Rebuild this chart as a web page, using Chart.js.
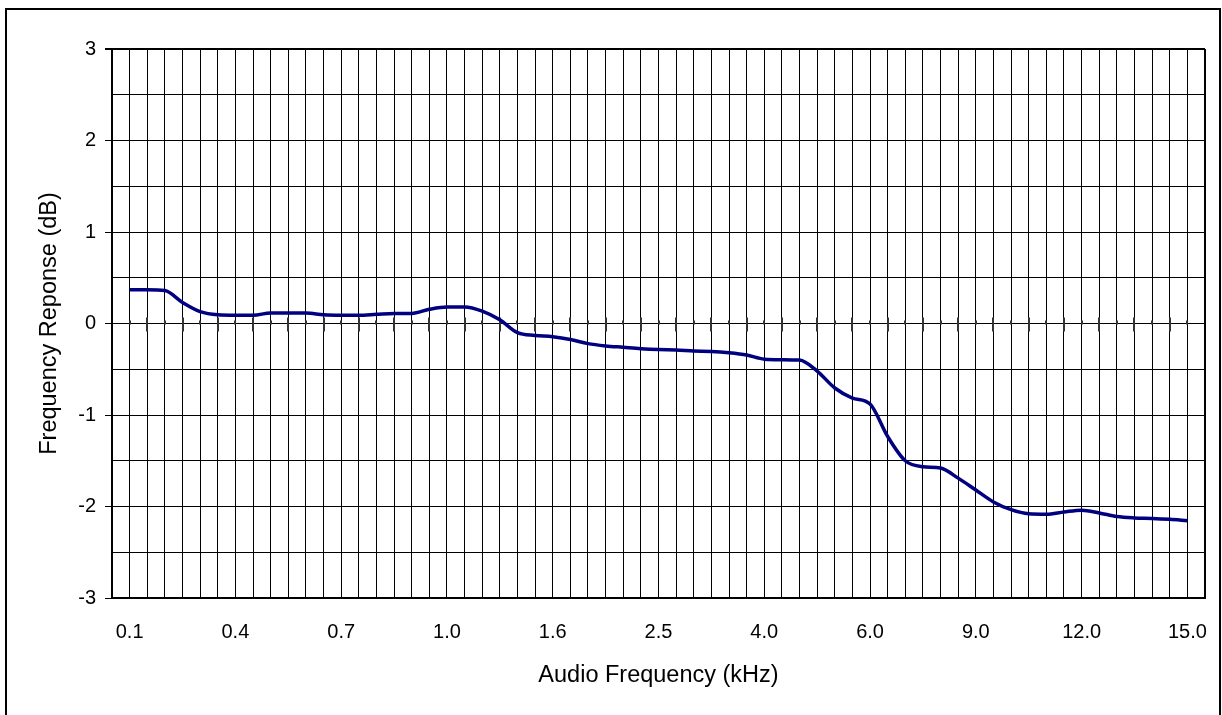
<!DOCTYPE html>
<html>
<head>
<meta charset="utf-8">
<script src="https://cdn.jsdelivr.net/npm/chart.js@4/dist/chart.umd.min.js"></script>
<style>
  html, body { margin: 0; padding: 0; background: #fff; overflow: hidden; width: 1222px; height: 715px; }
  #frame { position: absolute; left: 5px; top: 8px; width: 1212px; height: 720px; border: 2px solid #000; }
  #c { position: absolute; left: 0; top: 0; }
</style>
</head>
<body>
<div id="frame"></div>
<canvas id="c" width="1222" height="715"></canvas>
<script>
// Audio frequency tick labels (kHz), shown every 6th category
const freqTickLabels = ['0.1', '0.4', '0.7', '1.0', '1.6', '2.5', '4.0', '6.0', '9.0', '12.0', '15.0'];
const labelEvery = 6;

// Frequency response (dB), one value per category (61 categories)
const responseDb = [
  0.37, 0.37, 0.36, 0.23, 0.13, 0.095, 0.09, 0.09, 0.115, 0.115,
  0.115, 0.095, 0.09, 0.09, 0.10, 0.11, 0.11, 0.155, 0.18, 0.18,
  0.135, 0.04, -0.10, -0.13, -0.145, -0.175, -0.22, -0.245, -0.26, -0.275,
  -0.285, -0.29, -0.30, -0.305, -0.32, -0.345, -0.39, -0.395, -0.40, -0.52,
  -0.705, -0.815, -0.88, -1.235, -1.50, -1.565, -1.58, -1.69, -1.82, -1.95,
  -2.035, -2.08, -2.085, -2.06, -2.04, -2.07, -2.11, -2.125, -2.13, -2.14,
  -2.155
];

// Y axis range / labels
const yMin = -3, yMax = 3, yGridStep = 0.5;

const FONT = "'Liberation Sans', Arial, Helvetica, sans-serif";
const nCat = responseDb.length;

const zeroTicks = {
  id: 'zeroTicks',
  beforeDatasetsDraw(chart) {
    const xs = chart.scales.x, ys = chart.scales.y;
    const ctx = chart.ctx;
    const y0 = Math.round(ys.getPixelForValue(0)) + 0.5;
    ctx.save();
    ctx.strokeStyle = '#333';
    ctx.lineWidth = 2;
    for (let i = 0; i < nCat; i++) {
      const x = Math.round(xs.getPixelForValue(i));
      ctx.beginPath();
      if (i % 2 === 1) { ctx.moveTo(x, y0 - 7); ctx.lineTo(x, y0 + 7); }
      else { ctx.moveTo(x, y0 - 4); ctx.lineTo(x, y0); }
      ctx.stroke();
    }
    ctx.restore();
  }
};

new Chart(document.getElementById('c'), {
  type: 'line',
  data: {
    datasets: [{
      data: responseDb.map((v, i) => ({ x: i, y: v })),
      borderColor: '#000080',
      borderWidth: 3.5,
      pointRadius: 0,
      cubicInterpolationMode: 'monotone',
      fill: false
    }]
  },
  options: {
    responsive: false,
    animation: false,
    devicePixelRatio: 1,
    layout: { padding: { left: 0, right: 17, top: 49, bottom: 0 } },
    plugins: { legend: { display: false }, tooltip: { enabled: false } },
    scales: {
      x: {
        type: 'linear',
        min: -1,
        max: nCat,
        afterBuildTicks(scale) {
          const t = [];
          for (let v = -1; v <= nCat; v++) t.push({ value: v });
          scale.ticks = t;
        },
        afterFit(scale) { scale.height = 117; },
        ticks: {
          autoSkip: false,
          maxRotation: 0,
          padding: 5,
          color: '#000',
          font: { family: FONT, size: 20 },
          callback(value) {
            if (value >= 0 && value < nCat && value % labelEvery === 0) return freqTickLabels[value / labelEvery];
            return '';
          }
        },
        grid: {
          color: '#000',
          lineWidth: (ctx) => (ctx.tick && ctx.tick.value === nCat ? 2 : 1),
          drawTicks: true,
          tickLength: 17,
          tickColor: 'rgba(0,0,0,0)'
        },
        border: { display: true, color: '#000', width: 2 },
        title: {
          display: true,
          text: 'Audio Frequency (kHz)',
          color: '#000',
          font: { family: FONT, size: 23.5 },
          padding: { top: 0, bottom: 25 }
        }
      },
      y: {
        type: 'linear',
        min: yMin,
        max: yMax,
        afterBuildTicks(scale) {
          const t = [];
          for (let v = yMin; v <= yMax + 1e-9; v += yGridStep) t.push({ value: Math.round(v * 10) / 10 });
          scale.ticks = t;
        },
        afterFit(scale) { scale.width = 112; },
        ticks: {
          padding: 9,
          color: '#000',
          font: { family: FONT, size: 20 },
          callback(value) { return Number.isInteger(value) ? String(value) : ''; }
        },
        grid: {
          color: '#000',
          lineWidth: (ctx) => (ctx.tick && ctx.tick.value === yMax ? 2 : 1),
          tickLength: 7,
          tickColor: (ctx) => (ctx.tick && Number.isInteger(ctx.tick.value) ? '#000' : 'rgba(0,0,0,0)')
        },
        border: { display: true, color: '#000', width: 2 },
        title: {
          display: true,
          text: 'Frequency Reponse (dB)',
          color: '#000',
          font: { family: FONT, size: 23.5 },
          padding: { top: 35.5, bottom: 0 }
        }
      }
    }
  },
  plugins: [zeroTicks]
});
</script>
</body>
</html>
